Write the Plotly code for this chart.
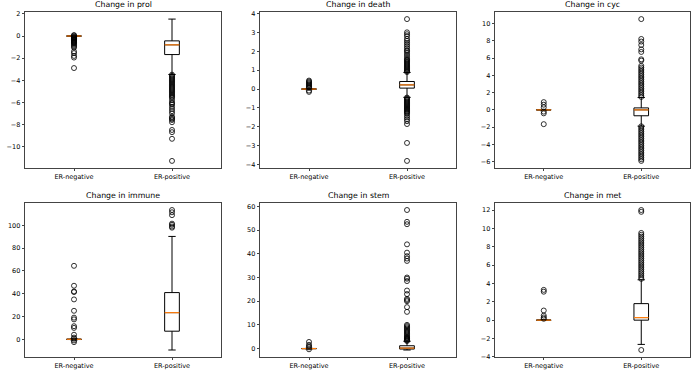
import plotly.graph_objects as go

groups = ["ER-negative", "ER-positive"]
titles = ["Change in prol", "Change in death", "Change in cyc",
          "Change in immune", "Change in stem", "Change in met"]
prol_ticks = [-10, -8, -6, -4, -2, 0, 2]
death_ticks = [-4, -3, -2, -1, 0, 1, 2, 3, 4]
cyc_ticks = [-6, -4, -2, 0, 2, 4, 6, 8, 10]
immune_ticks = [0, 20, 40, 60, 80, 100]
stem_ticks = [0, 10, 20, 30, 40, 50, 60]
met_ticks = [-4, -2, 0, 2, 4, 6, 8, 10, 12]

# box stats: [lowerfence, q1, median, q3, upperfence]
prol_neg_stats = [-0.03, -0.02, 0.0, 0.01, 0.02]
prol_pos_stats = [-3.48, -1.68, -0.8, -0.44, 1.53]
death_neg_stats = [-0.03, -0.01, 0.0, 0.01, 0.03]
death_pos_stats = [-0.44, 0.05, 0.22, 0.4, 0.88]
cyc_neg_stats = [-0.05, -0.02, 0.0, 0.02, 0.05]
cyc_pos_stats = [-1.88, -0.68, 0.0, 0.23, 1.43]
immune_neg_stats = [-0.5, -0.2, 0.0, 0.2, 0.5]
immune_pos_stats = [-9.4, 7.1, 23.4, 41.0, 90.3]
stem_neg_stats = [-0.1, -0.05, 0.0, 0.05, 0.1]
stem_pos_stats = [-0.6, -0.2, 0.2, 1.2, 3.1]
met_neg_stats = [-0.02, -0.01, 0.0, 0.02, 0.05]
met_pos_stats = [-2.64, 0.0, 0.28, 1.8, 4.4]

# outliers
prol_neg_out = [0.08, 0.04, -0.05, -0.1, -0.15, -0.2, -0.25, -0.3, -0.35, -0.4, -0.45,
                -0.5, -0.55, -0.6, -0.65, -0.75, -0.85, -0.95, -1.05, -1.4, -1.55,
                -1.8, -1.95, -2.9]
prol_pos_out = [-3.5, -3.6, -3.7, -3.8, -3.9, -4.0, -4.1, -4.2, -4.3, -4.4, -4.5, -4.6,
                -4.7, -4.8, -4.9, -5.0, -5.1, -5.2, -5.3, -5.4, -5.5, -5.6, -5.8, -6.0,
                -6.1, -6.2, -6.4, -6.6, -6.8, -7.0, -7.3, -7.4, -7.5, -7.6, -7.8, -8.5,
                -8.7, -9.3, -11.3]
death_neg_out = [0.45, 0.4, 0.35, 0.3, 0.25, 0.2, 0.15, 0.1, 0.06, -0.08, -0.15]
death_pos_out = [0.9, 0.95, 1.0, 1.05, 1.1, 1.15, 1.2, 1.25, 1.3, 1.35, 1.4, 1.45, 1.5,
                 1.55, 1.6, 1.7, 1.8, 1.9, 2.0, 2.05, 2.15, 2.25, 2.35, 2.45, 2.55, 2.65,
                 2.8, 2.9, 3.0, 3.7,
                 -0.45, -0.5, -0.55, -0.6, -0.65, -0.7, -0.75, -0.8, -0.85, -0.9, -0.95,
                 -1.0, -1.05, -1.1, -1.15, -1.2, -1.25, -1.3, -1.4, -1.5, -1.6, -1.7,
                 -1.85, -2.85, -3.8]
cyc_neg_out = [0.9, 0.6, 0.3, -0.2, -0.4, -1.65]
cyc_pos_out = [1.5, 1.7, 1.9, 2.1, 2.3, 2.5, 2.7, 2.9, 3.1, 3.3, 3.5, 3.7, 3.9, 4.1, 4.3,
               4.5, 4.7, 4.9, 5.1, 5.7, 5.85, 6.7, 7.0, 7.5, 7.9, 8.2, 10.5,
               -1.9, -2.1, -2.3, -2.5, -2.7, -2.9, -3.1, -3.3, -3.5, -3.7, -3.9, -4.1,
               -4.3, -4.5, -4.7, -4.9, -5.1, -5.3, -5.5, -5.7, -5.9]
immune_neg_out = [64.5, 47, 42, 41.5, 35, 25, 19, 17.5, 11.5, 10, 4, 1.5, 0.5, -1, -2.5]
immune_pos_out = [98, 99, 100.5, 101.5, 109, 111.5, 113.5]
stem_neg_out = [2.8, 1.6, 1.0, 0.5, -0.3]
stem_pos_out = [3.2, 3.5, 3.8, 4.1, 4.4, 4.7, 5.0, 5.5, 6.0, 6.5, 7.0, 7.5, 8.0, 8.5, 9.0,
                9.5, 10.0, 15.5, 17.5, 20, 20.5, 21, 23, 24.5, 28.5, 29.5, 30, 37, 38, 39,
                40.5, 44, 52.5, 53.5, 58.5]
met_neg_out = [3.3, 3.1, 1.05, 0.5, 0.3, 0.15]
met_pos_out = [4.5, 4.7, 4.9, 5.1, 5.3, 5.5, 5.7, 5.9, 6.1, 6.3, 6.5, 6.7, 6.9, 7.1, 7.3,
               7.5, 7.7, 7.9, 8.1, 8.3, 8.5, 8.7, 8.9, 9.1, 9.3, 9.5, 11.8, 12.0, -3.25]

panels = [
    (prol_neg_stats, prol_pos_stats, prol_neg_out, prol_pos_out, prol_ticks),
    (death_neg_stats, death_pos_stats, death_neg_out, death_pos_out, death_ticks),
    (cyc_neg_stats, cyc_pos_stats, cyc_neg_out, cyc_pos_out, cyc_ticks),
    (immune_neg_stats, immune_pos_stats, immune_neg_out, immune_pos_out, immune_ticks),
    (stem_neg_stats, stem_pos_stats, stem_neg_out, stem_pos_out, stem_ticks),
    (met_neg_stats, met_pos_stats, met_neg_out, met_pos_out, met_ticks),
]

W, H = 692, 370
col_px = [(25, 221), (260, 456), (495, 690)]
row_px = [(12, 168), (203, 357)]
BOXW = 0.15
positions = [1, 2]
ORANGE = "#ff7f0e"
FONT = "DejaVu Sans"

fig = go.Figure()
layout = dict(template="none", width=W, height=H, margin=dict(l=0, r=0, t=0, b=0),
              paper_bgcolor="white", plot_bgcolor="white", showlegend=False,
              font=dict(family=FONT, size=6.5, color="black"))
annotations = []

for i, (sn, sp, on, op, tv) in enumerate(panels):
    r, c = divmod(i, 3)
    k = str(i + 2)
    xa, ya = "x" + k, "y" + k
    x0, x1 = col_px[c]
    y0, y1 = row_px[r]
    xdom = [x0 / W, x1 / W]
    ydom = [1 - y1 / H, 1 - y0 / H]
    allv = list(sn) + list(sp) + list(on) + list(op)
    lo, hi = float(min(allv)), float(max(allv))
    pad = 0.05 * (hi - lo)
    yr = [lo - pad, hi + pad]
    for pos, st, outs in zip(positions, [sn, sp], [on, op]):
        fig.add_trace(go.Box(x=[pos], lowerfence=[st[0]], q1=[st[1]], median=[st[2]],
                             q3=[st[3]], upperfence=[st[4]], width=BOXW, whiskerwidth=0.5,
                             boxpoints=False, fillcolor="rgba(0,0,0,0)",
                             line=dict(color="black", width=1), xaxis=xa, yaxis=ya,
                             hoverinfo="skip"))
        fig.add_trace(go.Scatter(x=[pos - BOXW / 2, pos + BOXW / 2], y=[st[2], st[2]],
                                 mode="lines", line=dict(color=ORANGE, width=1.2),
                                 xaxis=xa, yaxis=ya, hoverinfo="skip"))
        fig.add_trace(go.Scatter(x=[pos] * len(outs), y=outs, mode="markers",
                                 marker=dict(symbol="circle-open", size=5, color="black",
                                             line=dict(width=0.8, color="black")),
                                 xaxis=xa, yaxis=ya, hoverinfo="skip"))
    axcommon = dict(showline=True, linecolor="#444", linewidth=0.8, mirror=True,
                    showgrid=False, zeroline=False, ticks="outside", ticklen=2.5,
                    tickwidth=0.8, tickcolor="#444", ticklabeloverflow="allow",
                    automargin=False, tickfont=dict(size=6.5, family=FONT))
    layout["xaxis" + k] = dict(domain=xdom, anchor=ya, range=[0.5, 2.5],
                               tickvals=positions, ticktext=groups, **axcommon)
    layout["yaxis" + k] = dict(domain=ydom, anchor=xa, range=yr, autorange=False,
                               tickmode="array", tickvals=tv,
                               ticktext=[str(v).replace("-", "\u2212") for v in tv],
                               **axcommon)
    annotations.append(dict(text=titles[i], x=(x0 + x1) / 2 / W, y=ydom[1],
                            xref="paper", yref="paper", xanchor="center", yanchor="bottom",
                            yshift=1, showarrow=False,
                            font=dict(size=7.8, family=FONT, color="black")))

layout["annotations"] = annotations
fig.update_layout(**layout)
fig.write_html("out.html")
